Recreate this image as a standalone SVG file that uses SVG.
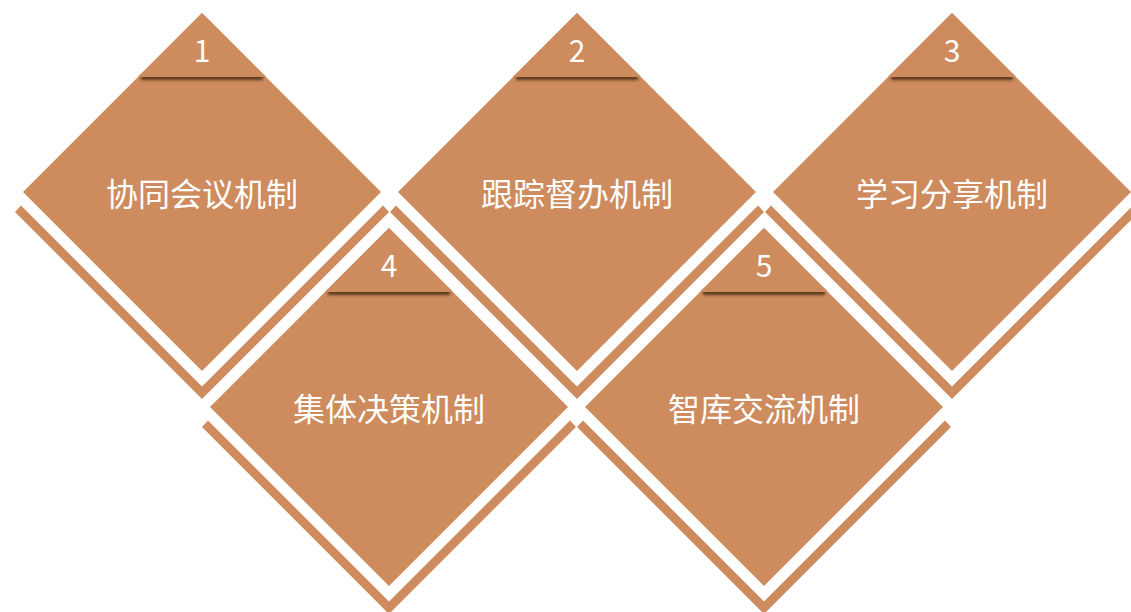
<svg xmlns="http://www.w3.org/2000/svg" width="1131" height="612" viewBox="0 0 1131 612">
<style>
.b{fill:#CD8B5E}
.sh{fill:#4e2d18;opacity:.9}
.num{font-family:"Noto Sans CJK SC","Noto Sans",sans-serif;font-size:30px;font-weight:400;fill:#fff;text-anchor:middle}
.lbl{font-family:"Noto Sans CJK SC","Noto Sans",sans-serif;font-size:32px;font-weight:400;fill:#fff;text-anchor:middle}
</style>
<defs>
<filter id="blur" x="-20%" y="-200%" width="140%" height="500%"><feGaussianBlur stdDeviation="1.8"/></filter>
<g id="shape">
<polygon class="b" points="-187,20 0,207 187,20 181,13.5 0,194.5 -181,13.5"/>
<polygon class="b" points="0,-179 179,0 0,179 -179,0"/>
<rect class="sh" x="-61" y="-117" width="122" height="5" filter="url(#blur)"/>
<polygon class="b" points="0,-179 64,-115 -64,-115"/>
</g>
</defs>
<g id="node1">
<use href="#shape" x="202" y="192"/>
<text class="num" x="202" y="62">1</text>
<text class="lbl" x="202" y="206">协同会议机制</text>
</g>
<g id="node2">
<use href="#shape" x="577" y="192"/>
<text class="num" x="577" y="62">2</text>
<text class="lbl" x="577" y="206">跟踪督办机制</text>
</g>
<g id="node3">
<use href="#shape" x="952" y="192"/>
<text class="num" x="952" y="62">3</text>
<text class="lbl" x="952" y="206">学习分享机制</text>
</g>
<g id="node4">
<use href="#shape" x="389" y="407"/>
<text class="num" x="389" y="277">4</text>
<text class="lbl" x="389" y="421">集体决策机制</text>
</g>
<g id="node5">
<use href="#shape" x="764" y="407"/>
<text class="num" x="764" y="277">5</text>
<text class="lbl" x="764" y="421">智库交流机制</text>
</g>
</svg>
